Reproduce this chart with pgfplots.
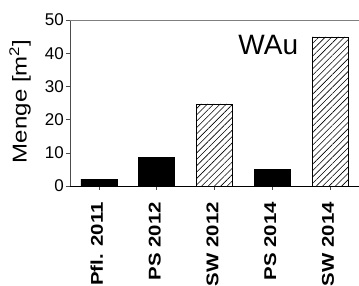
\documentclass[border=0pt]{standalone}
\usepackage{fontspec}
\setmainfont{Liberation Sans}
\usepackage{pgfplots}
\pgfplotsset{compat=1.18}
\usetikzlibrary{patterns.meta}
\newcommand\tl[1]{\scalebox{1.2}[1]{\fontsize{17}{17}\selectfont\bfseries #1}}
\begin{document}
\begin{tikzpicture}
\begin{axis}[
  at={(0,0)}, anchor=south west,
  scale only axis, width=289pt, height=166pt,
  xmin=-0.5, xmax=4.5, ymin=0, ymax=50,
  axis x line*=bottom, axis y line*=left,
  x axis line style={black, line width=0.9pt, -},
  y axis line style={black!70, line width=0.6pt, -},
  ytick={0,10,20,30,40,50},
  xtick={0,1,2,3,4},
  xticklabels={\tl{Pfl. 2011}, \tl{PS 2012}, \tl{SW 2012}, \tl{PS 2014}, \tl{SW 2014}},
  tick align=outside, major tick length=4pt,
  tick style={black!70, line width=0.5pt},
  /pgf/number format/assume math mode=true,
  yticklabel={\fontsize{17}{17}\selectfont\pgfmathprintnumber{\tick}},
  yticklabel style={inner sep=2pt},
  xticklabel style={yshift=-12pt, xshift=-2pt, rotate=90, anchor=east, inner sep=0pt},
  ylabel={\scalebox{1.2}[1]{\fontsize{20}{20}\selectfont Menge [m\textsuperscript{2}]}},
  every axis y label/.style={at={(axis description cs:-0.173,0.51)}, rotate=90, anchor=center},
  ybar, bar width=36pt, bar shift=0pt,
  clip=false,
]
\addplot[draw=black, fill=black, line width=0.5pt] coordinates {(0,2.1) (1,8.7) (3,5.1)};
\addplot[draw=black, line width=0.5pt, pattern={Lines[angle=45, distance=4.5pt, line width=0.6pt]}] coordinates {(2,24.7) (4,44.9)};
\draw[black!50, line width=0.8pt] (rel axis cs:0,1) -- (rel axis cs:1,1);
\node[anchor=center] at (axis cs:2.93,42.6) {\fontsize{28}{28}\selectfont WAu};
\end{axis}
\pgfresetboundingbox
\path (-70pt,-100pt) rectangle (289pt,186pt);
\end{tikzpicture}
\end{document}
